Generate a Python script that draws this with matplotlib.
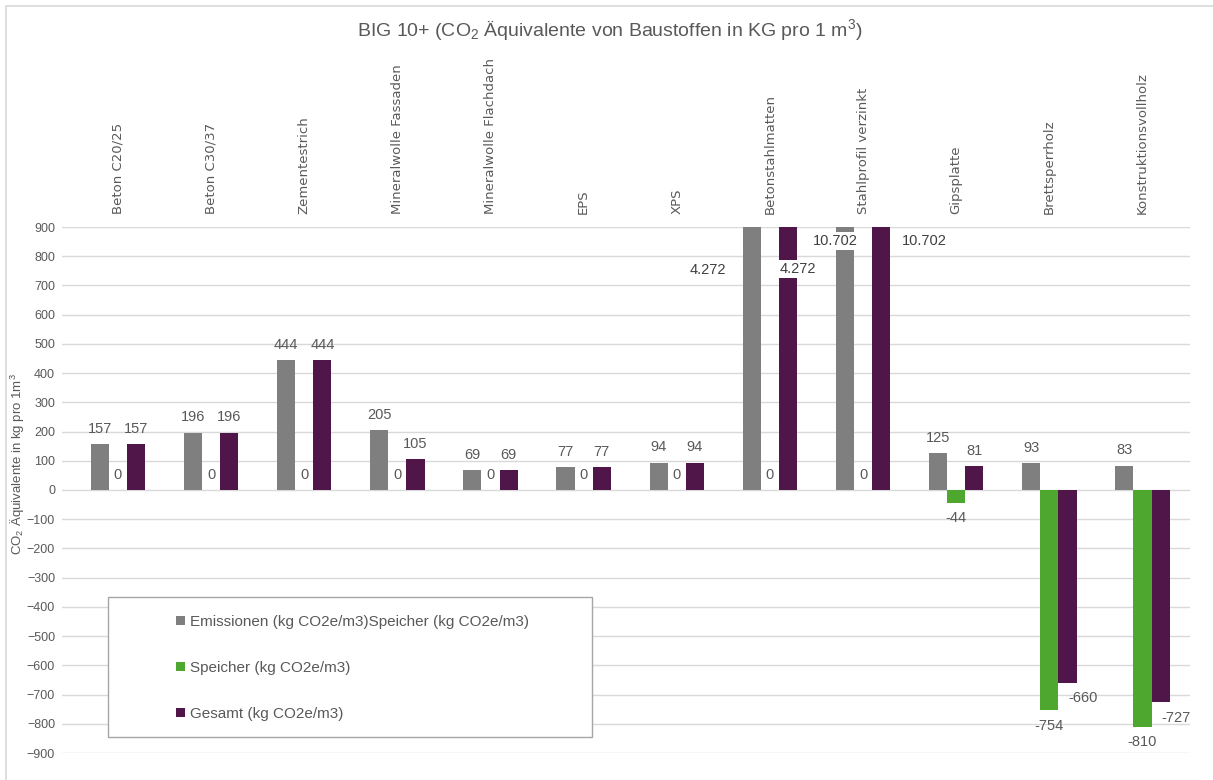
import numpy as np
import matplotlib.pyplot as plt
from matplotlib.patches import Rectangle

plt.rcParams['font.family'] = ['Liberation Sans', 'DejaVu Sans']
plt.rcParams['mathtext.fontset'] = 'custom'
plt.rcParams['mathtext.rm'] = 'Liberation Sans'
plt.rcParams['mathtext.it'] = 'Liberation Sans:italic'

# Daten
kategorien = ['Beton C20/25', 'Beton C30/37', 'Zementestrich', 'Mineralwolle Fassaden',
              'Mineralwolle Flachdach', 'EPS', 'XPS', 'Betonstahlmatten',
              'Stahlprofil verzinkt', 'Gipsplatte', 'Brettsperrholz', 'Konstruktionsvollholz']
emissionen = [157, 196, 444, 205, 69, 77, 94, 4272, 10702, 125, 93, 83]
speicher = [0, 0, 0, 0, 0, 0, 0, 0, 0, -44, -754, -810]
gesamt = [157, 196, 444, 105, 69, 77, 94, 4272, 10702, 81, -660, -727]
serien = ['Emissionen (kg CO2e/m3)Speicher (kg CO2e/m3)', 'Speicher (kg CO2e/m3)',
          'Gesamt (kg CO2e/m3)']
farben = ['#7f7f7f', '#4ea72e', '#501549']

W, H = 1213, 780
fig = plt.figure(figsize=(W / 100, H / 100), dpi=100)
ax = fig.add_axes([62 / W, 1 - 753 / H, (1190 - 62) / W, (753 - 227) / H])

x = np.arange(len(kategorien))
bw = 0.195
txt = '#595959'

# Labels ausserhalb der Achse (Werte > 900): (x relativ zur Kategorie, y, weisse Box)
sonder = {(0, 7): (-0.67, 753, False), (2, 7): (0.30, 756, True),
          (0, 8): (-0.30, 852, True), (2, 8): (0.66, 852, False)}
# seitlich verschobene Labels (Punkte)
versatz = {(2, 10): 11, (2, 11): 11}

for s, (werte, name, col) in enumerate(zip([emissionen, speicher, gesamt], serien, farben)):
    xs = x + (s - 1) * bw
    ax.bar(xs, werte, bw, color=col, label=name, zorder=2)
    for k, v in enumerate(werte):
        lab = f'{v:,}'.replace(',', '.')
        if (s, k) in sonder:
            dx, yy, box = sonder[(s, k)]
            ax.text(k + dx, yy, lab, ha='center', va='center', fontsize=10.5, color='#404040',
                    zorder=5, bbox=dict(fc='white', ec='none', pad=1.5) if box else None)
            continue
        dy = 11 if v >= 0 else -11
        ax.annotate(lab, (xs[k], v), xytext=(versatz.get((s, k), 0), dy),
                    textcoords='offset points', ha='center', va='center',
                    fontsize=10.5, color=txt, zorder=5)

ax.set_xlim(-0.6, 11.51)
ax.set_ylim(-900, 900)
ax.set_yticks(np.arange(-900, 901, 100))
ax.yaxis.grid(True, color='#d9d9d9', lw=1)
ax.set_axisbelow(True)
for sp in ax.spines.values():
    sp.set_visible(False)
ax.tick_params(axis='y', length=0, labelsize=9, labelcolor=txt, pad=5)

ax.xaxis.tick_top()
ax.set_xticks(x)
ax.set_xticklabels(kategorien, rotation=90, fontsize=9.5, color=txt,
                   family=['DejaVu Sans'])
ax.tick_params(axis='x', length=0, pad=9)

ax.set_ylabel(r'CO$_2$ Äquivalente in kg pro 1m$^3$', fontsize=9.5, color=txt)
ax.yaxis.set_label_coords(-0.031, 0.55)

fig.text(0.503, 1 - 30 / H, r'BIG 10+ (CO$_2$ Äquivalente von Baustoffen in KG pro 1 m$^3$)',
         ha='center', va='center', fontsize=14, color=txt)

# Rahmen Diagrammbereich
fig.add_artist(Rectangle((6 / W, -1), 2, 2 - 6 / H, fill=False, ec='#d9d9d9', lw=1.2,
                         transform=fig.transFigure))

# Legende
fig.add_artist(Rectangle((108 / W, 1 - 737 / H), 484 / W, 140 / H, fc='white', ec='#a6a6a6',
                         lw=1, transform=fig.transFigure, zorder=3))
leg = fig.legend(loc='upper left', bbox_to_anchor=(162 / W, 1 - 601 / H), frameon=False,
                 fontsize=11, labelcolor=txt, handlelength=0.6, handleheight=0.6,
                 handletextpad=0.3, labelspacing=2.1)
leg.set_zorder(4)

fig.savefig('out.png', dpi=100)
